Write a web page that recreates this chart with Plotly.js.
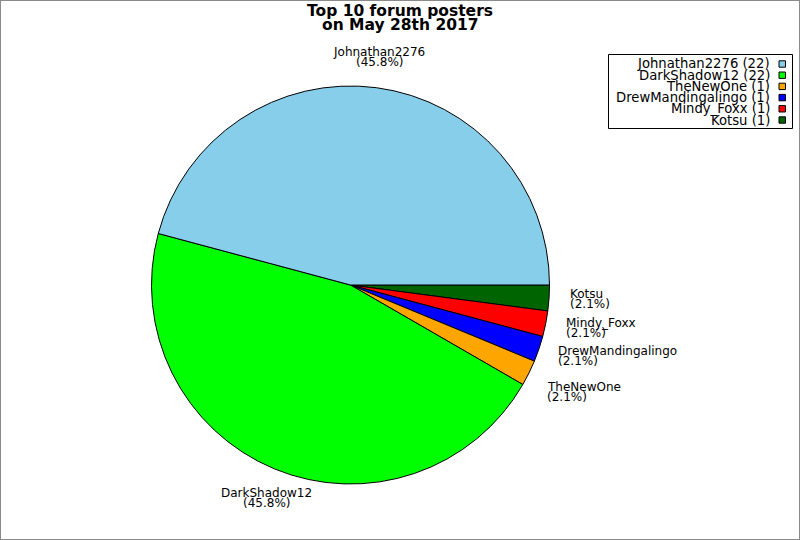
<!DOCTYPE html>
<html>
<head>
<meta charset="utf-8">
<script src="https://cdn.plot.ly/plotly-3.0.1.min.js"></script>
<style>
html,body{margin:0;padding:0;background:#fff;}
#wrap{position:relative;width:800px;height:540px;}
#chart{width:800px;height:540px;}
#frame{position:absolute;left:0;top:0;width:800px;height:540px;box-sizing:border-box;border:1px solid #8a8a8a;pointer-events:none;}
</style>
</head>
<body>
<div id="wrap"><div id="chart"></div><div id="frame"></div></div>
<script>
// ---- data ----
const posters = ["Johnathan2276", "DarkShadow12", "TheNewOne", "DrewMandingalingo", "Mindy_Foxx", "Kotsu"];
const postCounts = [22, 22, 1, 1, 1, 1];
const sliceColors = ["#87CEEB", "#00FF00", "#FFA500", "#0000FF", "#FF0000", "#006400"];
const titleLines = ["Top 10 forum posters", "on May 28th 2017"];

// ---- geometry (layout constants) ----
const W = 800, H = 540;
const CX = 350.5, CY = 285, R = 199, LR = 220;
const FONT = "DejaVu Sans, sans-serif";
const px = x => x / W;
const py = y => 1 - y / H;

const total = postCounts.reduce((a, b) => a + b, 0);

const annotations = [];
const shapes = [];

// title
titleLines.forEach((t, i) => {
  annotations.push({
    text: "<b>" + t + "</b>", xref: "paper", yref: "paper",
    x: 0.5, y: py(11 + i * 13.5), xanchor: "center", yanchor: "middle",
    showarrow: false, font: {family: FONT, size: 15.5, color: "#000"}
  });
});

// slice labels (slices run counterclockwise from 3 o'clock)
let cum = 0;
postCounts.forEach((v, i) => {
  const mid = (cum + v / 2) / total * 2 * Math.PI;
  cum += v;
  const c = Math.cos(mid), s = Math.sin(mid);
  let ax = CX + LR * c;
  const ay = CY - LR * s;
  let xa = "center";
  if (c > 0.4) { xa = "left"; ax -= 1.5; } else if (c < -0.4) { xa = "right"; ax += 1.5; }
  let y1, y2;
  if (s > 0.4) { y1 = ay - 15; y2 = ay - 5; }
  else if (s < -0.4) { y1 = ay + 4.5; y2 = ay + 14.5; }
  else { y1 = ay - 5; y2 = ay + 5; }
  const pct = "(" + (v / total * 100).toFixed(1) + "%)";
  [[posters[i], y1], [pct, y2]].forEach(([t, yy]) => {
    annotations.push({
      text: t, xref: "paper", yref: "paper", x: px(ax), y: py(yy),
      xanchor: xa, yanchor: "middle", showarrow: false, borderpad: 0,
      font: {family: FONT, size: 12, color: "#000"}
    });
  });
});

// legend
shapes.push({type: "rect", xref: "paper", yref: "paper",
  x0: px(608.5), x1: px(792.5), y0: py(54.5), y1: py(128.5),
  line: {color: "#000", width: 1}, fillcolor: "rgba(0,0,0,0)"});
posters.forEach((n, i) => {
  const cy = 64 + i * 11.2;
  annotations.push({
    text: n + " (" + postCounts[i] + ")", xref: "paper", yref: "paper",
    x: px(771), y: py(cy), xanchor: "right", yanchor: "middle",
    showarrow: false, borderpad: 0,
    font: {family: FONT, size: 13.2, color: "#000"}
  });
  shapes.push({type: "rect", xref: "paper", yref: "paper",
    x0: px(779), x1: px(785.5), y0: py(cy - 3.2), y1: py(cy + 3.2),
    line: {color: "#000", width: 1}, fillcolor: sliceColors[i]});
});

// Plotly: draw clockwise from 3 o'clock with reversed order, which gives
// the reference's counterclockwise run starting at 3 o'clock.
const trace = {
  type: "pie",
  labels: posters.slice().reverse(),
  values: postCounts.slice().reverse(),
  sort: false,
  direction: "clockwise",
  rotation: 90,
  textinfo: "none",
  hoverinfo: "none",
  showlegend: false,
  marker: {colors: sliceColors.slice().reverse(), line: {color: "#000", width: 1}},
  domain: {x: [px(CX - R), px(CX + R)], y: [py(CY + R), py(CY - R)]}
};

const layout = {
  width: W, height: H,
  margin: {l: 0, r: 0, t: 0, b: 0},
  paper_bgcolor: "#fff",
  showlegend: false,
  annotations: annotations,
  shapes: shapes
};

Plotly.newPlot("chart", [trace], layout, {displayModeBar: false, staticPlot: true});
</script>
</body>
</html>
